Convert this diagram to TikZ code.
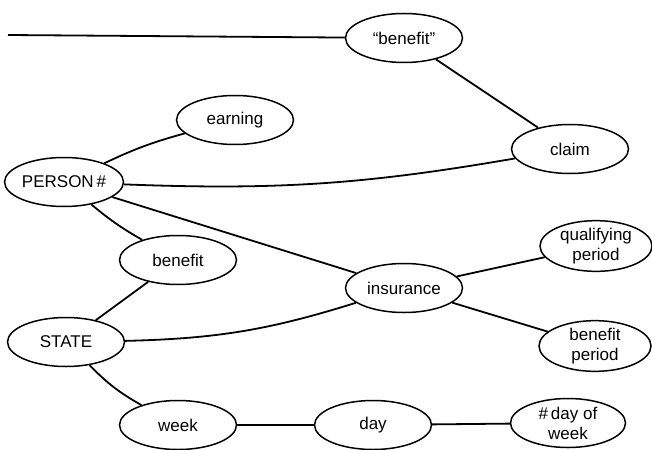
\documentclass[tikz,border=0pt]{standalone}
\usepackage{fontspec}
\setmainfont{Liberation Sans}
\usetikzlibrary{shapes.geometric}
\begin{document}
\begin{tikzpicture}[%
            x=1pt,
            y=-1pt,
            concept/.style={%
              draw,
              ellipse,
              line width=1.5pt,
              minimum width=117pt,
              minimum height=49pt,
              inner sep=0pt,
              align=center,
              font=\fontsize{17}{20}\selectfont,
            },
            link/.style={%
              line width=1.8pt,
            }
          ]
            \useasboundingbox (0,0) rectangle (652,449);

            \node [concept] (quoted) at (404,38) {``benefit''};
            \node [concept] (claim) at (570,149) {claim};
            \node [concept] (earning) at (235,120) {earning};
            \node [concept] (person) at (64,182) {PERSON\,\#};
            \node [concept] (benefit) at (178,260) {benefit};
            \node [concept] (insurance) at (404,288) {insurance};
            \node [%
              concept,
              minimum width=112pt,
            ] (qualifying) at (596,246) {qualifying\\period};
            \node [%
              concept,
              minimum width=112pt,
            ] (period) at (595,346) {benefit\\period};
            \node [concept] (state) at (66,342) {STATE};
            \node [concept] (week) at (178,425) {week};
            \node [concept] (day) at (373,425) {day};
            \node [%
              concept,
              minimum width=115pt,
            ] (weekday) at (568,423) {\#\,day of\\week};
            \coordinate (loose) at (8,35);

            \draw [link] (loose) -- (quoted);
            \draw [link] (quoted) -- (claim);
            \draw [link] (claim) to [bend left=6] (person);
            \draw [link] (earning) to [bend right=5] (person);
            \draw [link] (person) to [bend right=5] (benefit);
            \draw [link] (person) -- (insurance);
            \draw [link] (benefit) -- (state);
            \draw [link] (state) to [bend right=8] (insurance);
            \draw [link] (insurance) -- (qualifying);
            \draw [link] (insurance) -- (period);
            \draw [link] (state) to [bend right=8] (week);
            \draw [link] (week) -- (day);
            \draw [link] (day) -- (weekday);
          \end{tikzpicture}
\end{document}
